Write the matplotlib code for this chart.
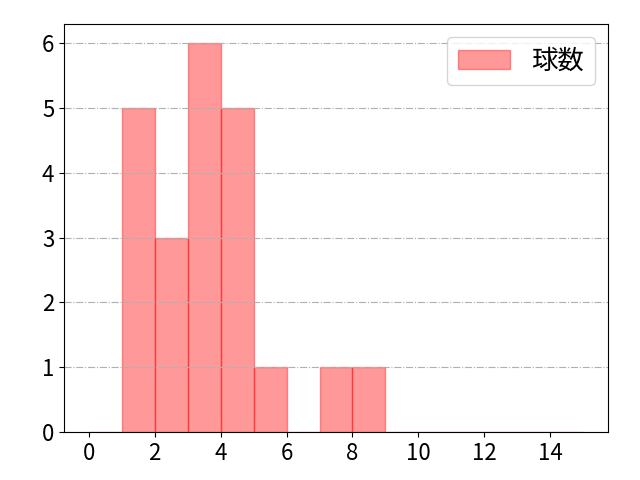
import matplotlib
matplotlib.use("Agg")
import matplotlib.pyplot as plt
import numpy as np

plt.rcParams['font.family'] = ['Noto Sans CJK JP', 'DejaVu Sans']

bin_edges = list(range(0, 16))
counts = [0, 5, 3, 6, 5, 1, 0, 1, 1, 0, 0, 0, 0, 0, 0]
label = "球数"

fig, ax = plt.subplots(figsize=(6.4, 4.8), dpi=100)
ax.hist(bin_edges[:-1], bins=bin_edges, weights=counts,
        color='red', alpha=0.4, edgecolor='red', label=label)
ax.grid(axis='y', linestyle='-.', color='#b0b0b0', linewidth=0.8)
ax.set_xticks([0, 2, 4, 6, 8, 10, 12, 14])
ax.tick_params(labelsize=16)
ax.legend(fontsize=19, loc='upper right')
fig.subplots_adjust(left=0.1, right=0.95, bottom=0.1, top=0.95)
fig.savefig("out.png")
